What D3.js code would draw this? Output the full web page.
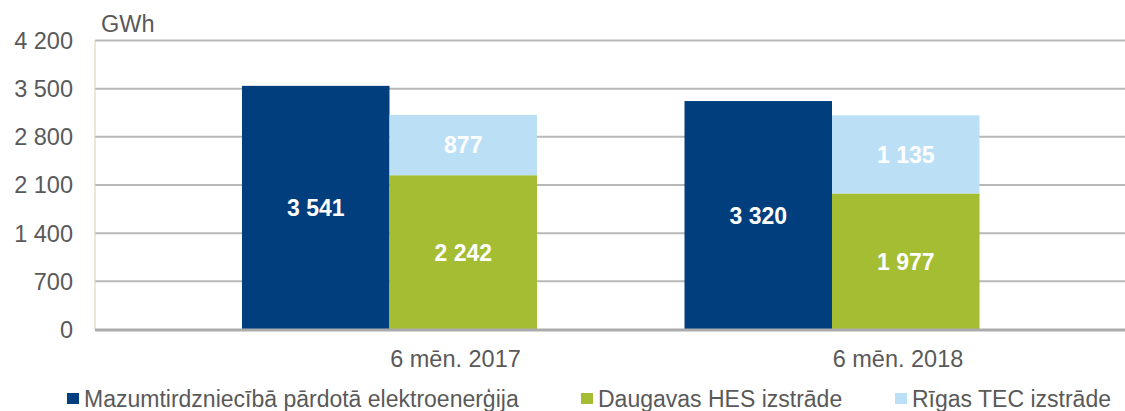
<!DOCTYPE html>
<html>
<head>
<meta charset="utf-8">
<script src="https://cdn.jsdelivr.net/npm/d3@7"></script>
<style>
  body { margin: 0; background: #fff; }
  text { font-family: "Liberation Sans", Arial, sans-serif; }
</style>
</head>
<body>
<div id="chart"></div>
<script>
// data
var categories = ["6 mēn. 2017", "6 mēn. 2018"];
var retailSales = [3541, 3320];   // Mazumtirdzniecībā pārdotā elektroenerģija
var hesOutput = [2242, 1977];     // Daugavas HES izstrāde
var tecOutput = [877, 1135];      // Rīgas TEC izstrāde
var yTicks = [0, 700, 1400, 2100, 2800, 3500, 4200];
var seriesNames = ["Mazumtirdzniecībā pārdotā elektroenerģija", "Daugavas HES izstrāde", "Rīgas TEC izstrāde"];
var seriesColors = ["#013e7d", "#a4bd32", "#bbe0f6"];

var width = 1125, height = 411;
var plotLeft = 95, plotRight = 1125, plotTop = 40.5, plotBottom = 329.5;

var fmt = function(v) { return d3.format(",")(v).replace(/,/g, " "); };

var svg = d3.select("#chart").append("svg")
  .attr("width", width)
  .attr("height", height);

var y = d3.scaleLinear().domain([0, 4200]).range([plotBottom, plotTop]);

var x = d3.scaleBand()
  .domain(categories)
  .range([168.25, 1053.25])
  .paddingInner(1/3)
  .paddingOuter(1/6);

var xSub = d3.scaleBand()
  .domain(["retail", "prod"])
  .range([0, x.bandwidth()]);

// gridlines
svg.append("g")
  .selectAll("line")
  .data(yTicks.filter(function(d) { return d > 0; }))
  .enter().append("line")
  .attr("x1", plotLeft).attr("x2", plotRight)
  .attr("y1", function(d) { return y(d); })
  .attr("y2", function(d) { return y(d); })
  .attr("stroke", "#b8b8b8")
  .attr("stroke-width", 2);

// y tick labels
svg.append("g")
  .selectAll("text")
  .data(yTicks)
  .enter().append("text")
  .attr("x", 73)
  .attr("y", function(d) { return y(d); })
  .attr("dy", "0.36em")
  .attr("text-anchor", "end")
  .attr("fill", "#595959")
  .style("font-size", "23.5px")
  .text(function(d) { return fmt(d); });

svg.append("text")
  .attr("x", 101).attr("y", 32)
  .attr("fill", "#595959")
  .style("font-size", "23.5px")
  .text("GWh");

// left axis line
svg.append("line")
  .attr("x1", plotLeft).attr("x2", plotLeft)
  .attr("y1", plotTop).attr("y2", plotBottom)
  .attr("stroke", "#d8cfa8")
  .attr("stroke-width", 1);

// bars
var segs = [];
categories.forEach(function(c, i) {
  segs.push({ cat: c, col: "retail", y0: 0, y1: retailSales[i], v: retailSales[i], color: seriesColors[0] });
  segs.push({ cat: c, col: "prod", y0: 0, y1: hesOutput[i], v: hesOutput[i], color: seriesColors[1] });
  segs.push({ cat: c, col: "prod", y0: hesOutput[i], y1: hesOutput[i] + tecOutput[i], v: tecOutput[i], color: seriesColors[2] });
});

svg.append("g")
  .selectAll("rect")
  .data(segs)
  .enter().append("rect")
  .attr("x", function(d) { return x(d.cat) + xSub(d.col); })
  .attr("width", xSub.bandwidth())
  .attr("y", function(d) { return y(d.y1); })
  .attr("height", function(d) { return y(d.y0) - y(d.y1); })
  .attr("fill", function(d) { return d.color; });

svg.append("g")
  .selectAll("text")
  .data(segs)
  .enter().append("text")
  .attr("x", function(d) { return x(d.cat) + xSub(d.col) + xSub.bandwidth() / 2; })
  .attr("y", function(d) { return (y(d.y0) + y(d.y1)) / 2; })
  .attr("dy", "0.36em")
  .attr("text-anchor", "middle")
  .attr("fill", "#fff")
  .style("font-size", "23px")
  .style("font-weight", "bold")
  .text(function(d) { return fmt(d.v); });

// baseline
svg.append("line")
  .attr("x1", plotLeft).attr("x2", plotRight)
  .attr("y1", plotBottom + 0.5).attr("y2", plotBottom + 0.5)
  .attr("stroke", "#ababab")
  .attr("stroke-width", 3);

// category labels
svg.append("g")
  .selectAll("text")
  .data(categories)
  .enter().append("text")
  .attr("x", function(d) { return x(d) + x.bandwidth() / 2 + 66; })
  .attr("y", 366.5)
  .attr("text-anchor", "middle")
  .attr("fill", "#595959")
  .style("font-size", "23.5px")
  .text(function(d) { return d; });

// legend
var legendX = [67, 581, 895];
var legend = svg.append("g")
  .selectAll("g")
  .data(seriesNames)
  .enter().append("g")
  .attr("transform", function(d, i) { return "translate(" + legendX[i] + ",398.5)"; });

legend.append("rect")
  .attr("x", 0).attr("y", -5.5)
  .attr("width", 12).attr("height", 11)
  .attr("fill", function(d, i) { return seriesColors[i]; });

legend.append("text")
  .attr("x", 17).attr("y", 0)
  .attr("dy", "0.36em")
  .attr("fill", "#595959")
  .style("font-size", "23px")
  .text(function(d) { return d; });
</script>
</body>
</html>
